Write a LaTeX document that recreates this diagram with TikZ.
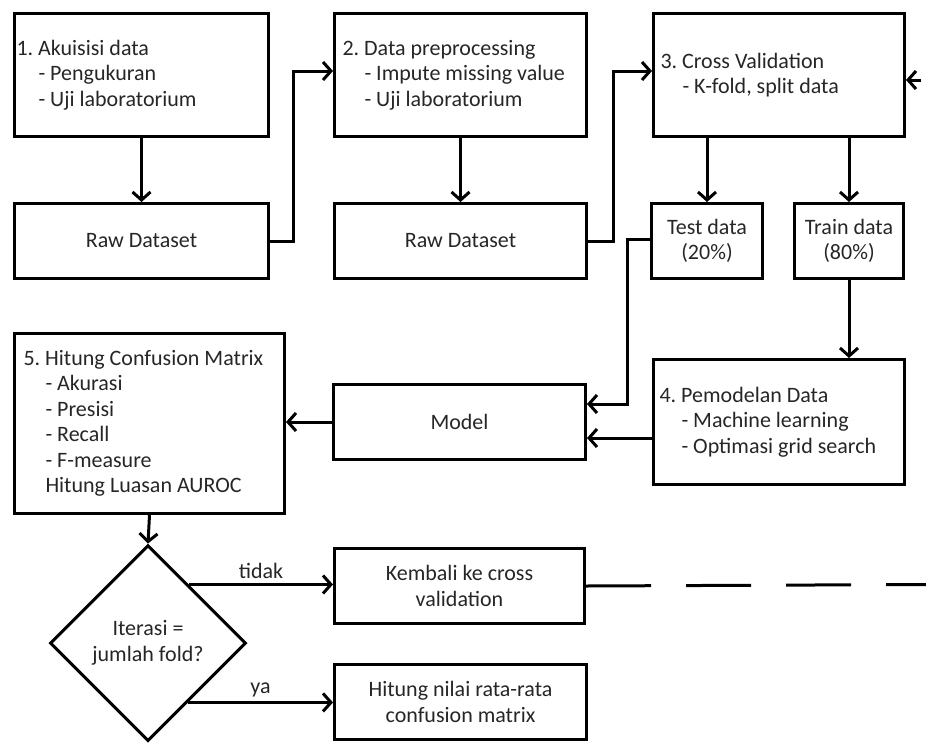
\documentclass[tikz,border=0pt]{standalone}
\usepackage{fontspec}
\setmainfont{Carlito}
\usepackage{tikz}
\usetikzlibrary{arrows.meta,shapes.geometric}
\frenchspacing

\begin{document}
\begin{tikzpicture}[x=1pt, y=-1pt, line width=3pt,
  every node/.style={font=\fontsize{22}{25.5}\selectfont, text=black!85},
  stage/.style={draw, anchor=north west, align=flush left, inner ysep=0pt, inner xsep=7pt, minimum height=123pt},
  box/.style={draw, anchor=north west, align=flush center, inner sep=0pt, minimum height=75pt},
  arr/.style={-{Straight Barb[length=8pt,width=18pt,line width=3pt]}}]
  \useasboundingbox (0,0) rectangle (926,742);
  \node[stage, inner xsep=2pt, text width=250pt] (akuisisi) at (13,12) {1. Akuisisi data\\\quad- Pengukuran\\\quad- Uji laboratorium};
  \node[stage, inner xsep=8pt, text width=236pt] (prep) at (333,12) {2. Data preprocessing\\\quad- Impute missing value\\\quad- Uji laboratorium};
  \node[stage, text width=237pt] (cv) at (652,12) {3. Cross Validation\\\quad- K-fold, split data};
  \node[stage, inner xsep=6pt, text width=239pt, minimum height=125pt] (pemodelan) at (652,358) {4. Pemodelan Data\\\quad- Machine learning\\\quad- Optimasi grid search};
  \node[stage, inner xsep=9pt, text width=252pt, minimum height=180pt] (evaluasi) at (13,332) {5. Hitung Confusion Matrix\\\quad- Akurasi\\\quad- Presisi\\\quad- Recall\\\quad- F-measure\\\quad Hitung Luasan AUROC};
  \node[box, minimum width=254pt] (raw1) at (13,202) {Raw Dataset};
  \node[box, minimum width=252pt] (raw2) at (333,202) {Raw Dataset};
  \node[box, minimum width=111pt] (test) at (650,202) {Test data\\(20\%)};
  \node[box, minimum width=109pt] (train) at (793,202) {Train data\\(80\%)};
  \node[box, minimum width=252pt] (model) at (332,383) {Model};
  \node[box, minimum width=250pt] (kembali) at (333,547) {Kembali ke cross\\validation};
  \node[box, minimum width=252pt] (ratarata) at (333,663) {Hitung nilai rata-rata\\confusion matrix};
  \node[draw, diamond, aspect=1, inner sep=0pt, minimum width=196pt, minimum height=196pt, align=center] (iterasi) at (148,643) {Iterasi =\\jumlah fold?};
  \coordinate (loopout) at (926,584.5);
  \coordinate (loopin) at (921,80);
  \draw[arr] (akuisisi) -- (raw1);
  \draw[arr] (raw1.east) -- ++(23,0) |- ([yshift=4pt]prep.west);
  \draw[arr] (prep) -- (raw2);
  \draw[arr] (raw2.east) -- ++(25,0) |- ([yshift=4pt]cv.west);
  \draw[arr] (cv.south -| test.north) -- (test.north);
  \draw[arr] (cv.south -| train.north) -- (train.north);
  \draw[arr] (train.south) -- (train.south |- pemodelan.north);
  \draw[arr] ([yshift=2pt]test.west) -- ++(-23,0) |- ([yshift=18pt]model.east);
  \draw[arr] ([yshift=-16pt]pemodelan.west) -- ([yshift=-16pt]pemodelan.west -| model.east);
  \draw[arr] (model.west) -- (model.west -| evaluasi.east);
  \draw[arr] (evaluasi.south) -- (iterasi.north);
  \draw[arr] (iterasi.55) -- node[above=1pt] (tidak) {tidak} (iterasi.55 -| kembali.west);
  \draw[arr] (iterasi.-56) -- node[above=1pt] (ya) {ya} (iterasi.-56 -| ratarata.west);
  \draw[dash pattern=on 65pt off 35pt] (kembali.east) -- (loopout);
  \draw[arr] (loopin) -- (loopin -| cv.east);
\end{tikzpicture}
\end{document}
